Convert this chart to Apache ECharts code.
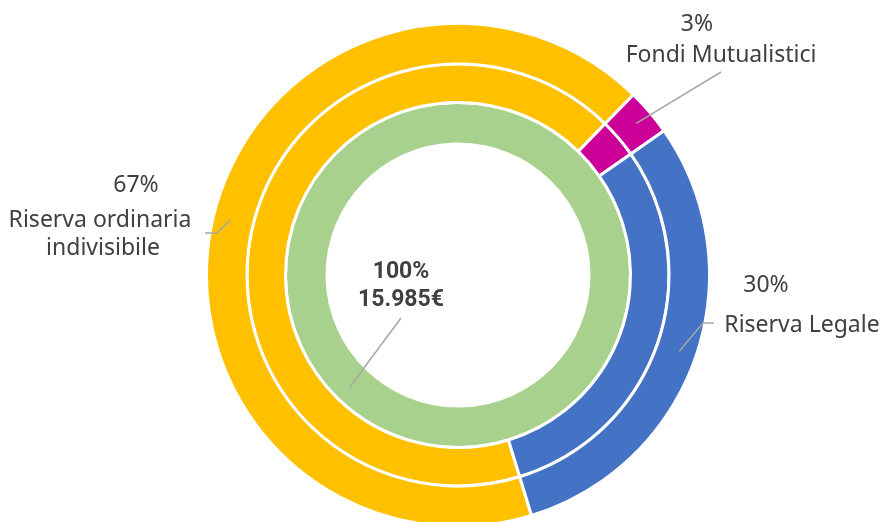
<!DOCTYPE html>
<html>
<head>
<meta charset="utf-8">
<style>
    html, body { margin: 0; padding: 0; background: #fff; }
    #chart { width: 885px; height: 522px; }
</style>
<script src="https://cdn.jsdelivr.net/npm/echarts@6/dist/echarts.min.js"></script>
</head>
<body>
<div id="chart"></div>
<script>
// dati
const categories = ['Riserva ordinaria indivisibile', 'Fondi Mutualistici', 'Riserva Legale'];
const values = [10710, 479, 4796];
const totalName = 'Totale';
const totalValue = 15985;

// colori
const colors = ['#FFC000', '#CC0099', '#4472C4'];
const totalColor = '#A9D18E';
const textColor = '#404040';
const lineColor = '#A6A6A6';

// posizione delle etichette (solo layout)
const cx = 458, cy = 275;
const ringStart = 287;
const totalStart = 46;
const innerRadius = [131, 172.5];
const middleRadius = [172.5, 211];
const outerRadius = [211, 251.5];
const namePos = [[103, 234], [721, 55], [802, 325]];
const nameLine = [[[217, 233], [205, 233]], [[721, 72]], [[703, 323], [714, 323]]];
const pctPos = [[136, 185], [697, 24], [766, 285]];
const centerPos = [401, 286];
const centerLine = [[401, 318]];

// punto a metà settore, raggio r
function midPoint(idx, vals, start, r) {
    var sum = vals.reduce(function (a, b) { return a + b; }, 0);
    var cum = 0;
    for (var k = 0; k < idx; k++) cum += vals[k];
    var a = (start - 360 * (cum + vals[idx] / 2) / sum) * Math.PI / 180;
    return [cx + r * Math.cos(a), cy - r * Math.sin(a)];
}

function euro(v) {
    return String(v).replace(/\B(?=(\d{3})+(?!\d))/g, '.') + '€';
}

const ringData = categories.map(function (name, i) {
    return { name: name, value: values[i], itemStyle: { color: colors[i] } };
});
const totalData = [{ name: totalName, value: totalValue, itemStyle: { color: totalColor } }];

// anello base, senza etichette di testo
function ring(name, radius, start, data) {
    return {
        name: name,
        type: 'pie',
        silent: true,
        center: [cx, cy],
        radius: radius,
        startAngle: start,
        avoidLabelOverlap: false,
        itemStyle: { borderColor: '#fff', borderWidth: 3 },
        label: { show: false },
        labelLine: { show: false },
        data: data
    };
}

// anello trasparente sopra, solo per etichette e linee guida
function overlay(name, radius, start, data, label, layout) {
    return {
        name: name,
        type: 'pie',
        silent: true,
        z: 5,
        center: [cx, cy],
        radius: radius,
        startAngle: start,
        avoidLabelOverlap: false,
        itemStyle: { color: 'rgba(0,0,0,0)', borderWidth: 0 },
        label: label,
        labelLine: { show: true, length: 10, length2: 10, lineStyle: { color: lineColor, width: 1.5 } },
        labelLayout: layout,
        data: data.map(function (d) { return { name: d.name, value: d.value }; })
    };
}

var dom = document.getElementById('chart');
var myChart = echarts.init(dom, null, { renderer: 'canvas' });

var middle = ring('percentuali', middleRadius, ringStart, ringData);
middle.label = {
    show: true,
    position: 'outside',
    color: textColor,
    fontFamily: 'Noto Sans',
    fontSize: 23,
    formatter: function (p) {
        return Math.round(p.percent) + '%';
    }
};
middle.labelLayout = function (params) {
    var pos = pctPos[params.dataIndex];
    return { x: pos[0], y: pos[1], align: 'center', verticalAlign: 'middle' };
};

var option = {
    animation: false,
    series: [
        ring('totale', innerRadius, totalStart, totalData),
        middle,
        ring('riserve', outerRadius, ringStart, ringData),
        overlay('totale-etichetta', innerRadius, totalStart, totalData, {
            show: true,
            position: 'outside',
            color: textColor,
            fontFamily: 'Roboto',
            fontWeight: 'bold',
            fontSize: 23,
            lineHeight: 28,
            align: 'center',
            formatter: function (p) {
                return Math.round(p.percent) + '%\n' + euro(p.value);
            }
        }, function () {
            return {
                x: centerPos[0], y: centerPos[1],
                align: 'center', verticalAlign: 'middle',
                labelLinePoints: [midPoint(0, [totalValue], totalStart, 156)].concat(centerLine)
            };
        }),
        overlay('riserve-etichette', outerRadius, ringStart, ringData, {
            show: true,
            position: 'outside',
            color: textColor,
            fontFamily: 'Noto Sans',
            fontSize: 23,
            lineHeight: 28,
            width: 200,
            overflow: 'break',
            align: 'center',
            formatter: '{b}'
        }, function (params) {
            var i = params.dataIndex;
            return {
                x: namePos[i][0], y: namePos[i][1],
                align: 'center', verticalAlign: 'middle',
                labelLinePoints: [midPoint(i, values, ringStart, 234)].concat(nameLine[i])
            };
        })
    ]
};

if (option && typeof option === 'object') {
    myChart.setOption(option);
}
window.addEventListener('resize', myChart.resize);
</script>
</body>
</html>
